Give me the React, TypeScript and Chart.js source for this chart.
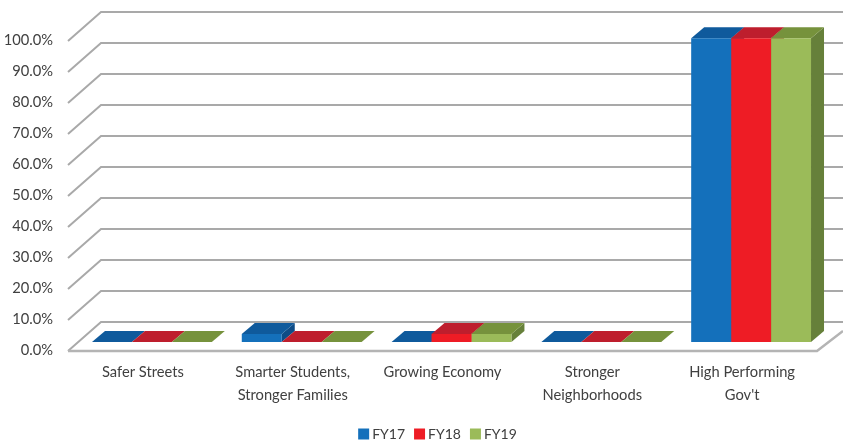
import React, { useEffect, useRef } from "react";
import { Chart, registerables } from "chart.js";

Chart.register(...registerables);

const categories = [
  "Safer Streets",
  ["Smarter Students,", "Stronger Families"],
  "Growing Economy",
  ["Stronger", "Neighborhoods"],
  ["High Performing", "Gov't"],
];
const seriesNames = ["FY17", "FY18", "FY19"];
const fy17 = [0, 2.6, 0, 0, 98];
const fy18 = [0, 0, 2.6, 0, 98];
const fy19 = [0, 0, 2.6, 0, 98];
const frontColors = ["#1470BB", "#EE1C25", "#9BBB59"];
const topColors = ["#0F5A9C", "#BE1E2D", "#76923C"];
const sideColors = ["#0E4C86", "#96161F", "#66803A"];

const WALL_DX = 33;
const WALL_DY = 29;
const BAR_DX = 9;
const BAR_DY = 9;
const DEPTH_DX = 13;
const DEPTH_DY = 11;
const GRID = "#A9A9A9";

function poly(ctx: CanvasRenderingContext2D, pts: number[][], color: string) {
  ctx.fillStyle = color;
  ctx.beginPath();
  pts.forEach(([x, y], i) => (i ? ctx.lineTo(x, y) : ctx.moveTo(x, y)));
  ctx.closePath();
  ctx.fill();
}

const walls = {
  id: "walls3d",
  afterLayout(chart: any) {
    const lg = chart.legend;
    lg.top += 6;
    lg.bottom += 6;
    lg.left += 31;
    lg.right += 31;
  },
  beforeDatasetsDraw(chart: any) {
    const { ctx, scales, chartArea, width } = chart;
    const { left, right } = chartArea;
    ctx.save();
    ctx.strokeStyle = GRID;
    ctx.lineWidth = 2;
    scales.y.ticks.forEach((t: any) => {
      const y = scales.y.getPixelForValue(t.value);
      ctx.beginPath();
      ctx.moveTo(left, y);
      ctx.lineTo(left + WALL_DX, y - WALL_DY);
      ctx.lineTo(width, y - WALL_DY);
      ctx.stroke();
    });
    const y0 = scales.y.getPixelForValue(0);
    ctx.strokeStyle = "#B4B4B4";
    ctx.lineWidth = 2.5;
    ctx.beginPath();
    ctx.moveTo(left, y0);
    ctx.lineTo(right, y0);
    ctx.lineTo(width, y0 - 20);
    ctx.stroke();
    ctx.translate(BAR_DX, -BAR_DY);
    chart.data.datasets.forEach((_: any, d: number) => {
      chart.getDatasetMeta(d).data.forEach((bar: any) => {
        const l = bar.x - bar.width / 2;
        const r = bar.x + bar.width / 2;
        const top = bar.y;
        const base = bar.base;
        poly(ctx, [[r, top], [r + DEPTH_DX, top - DEPTH_DY], [r + DEPTH_DX, base - DEPTH_DY], [r, base]], sideColors[d]);
        poly(ctx, [[l, top], [r, top], [r + DEPTH_DX, top - DEPTH_DY], [l + DEPTH_DX, top - DEPTH_DY]], topColors[d]);
      });
    });
    ctx.restore();
    ctx.save();
    ctx.translate(BAR_DX, -BAR_DY);
  },
  afterDatasetsDraw(chart: any) {
    chart.ctx.restore();
  },
};

export default function App() {
  const ref = useRef<HTMLCanvasElement>(null);
  useEffect(() => {
    const font = { family: "Lato, Carlito, sans-serif", size: 14.7 };
    const chart = new Chart(ref.current as HTMLCanvasElement, {
      type: "bar",
      plugins: [walls],
      data: {
        labels: categories as any,
        datasets: [fy17, fy18, fy19].map((data, i) => ({
          label: seriesNames[i],
          data,
          backgroundColor: frontColors[i],
          borderWidth: 0,
          categoryPercentage: 0.8,
          barPercentage: 1,
        })),
      },
      options: {
        responsive: false,
        animation: false,
        layout: { padding: { top: 41, right: 26, left: 0, bottom: 0 } },
        clip: false as any,
        plugins: {
          tooltip: { enabled: false },
          legend: {
            position: "bottom",
            labels: {
              boxWidth: 3,
              boxHeight: 3,
              padding: 13,
              color: "#404040",
              font: { ...font, size: 14 },
              generateLabels: (c: any) =>
                c.data.datasets.map((ds: any, i: number) => ({
                  text: ds.label,
                  fillStyle: frontColors[i],
                  strokeStyle: frontColors[i],
                  lineWidth: 8,
                  datasetIndex: i,
                  fontColor: "#404040",
                })),
            },
          },
        },
        scales: {
          x: {
            grid: { display: false },
            border: { display: false },
            ticks: { color: "#404040", font: { ...font, lineHeight: 1.55 }, padding: 2, maxRotation: 0, autoSkip: false },
            afterFit(s: any) { s.height = 57; },
          },
          y: {
            min: 0,
            max: 100,
            grid: { display: false },
            border: { display: false },
            ticks: {
              stepSize: 10,
              color: "#404040",
              font,
              padding: 7,
              labelOffset: -1,
              callback: (v: any) => Number(v).toFixed(1) + "%",
            },
            afterFit(s: any) { s.width = 68; },
          },
        },
      },
    });
    return () => chart.destroy();
  }, []);
  return (
    <canvas
      ref={ref}
      width={843}
      height={445}
      style={{ position: "absolute", left: 0, top: 0, width: 843, height: 445 }}
    />
  );
}
